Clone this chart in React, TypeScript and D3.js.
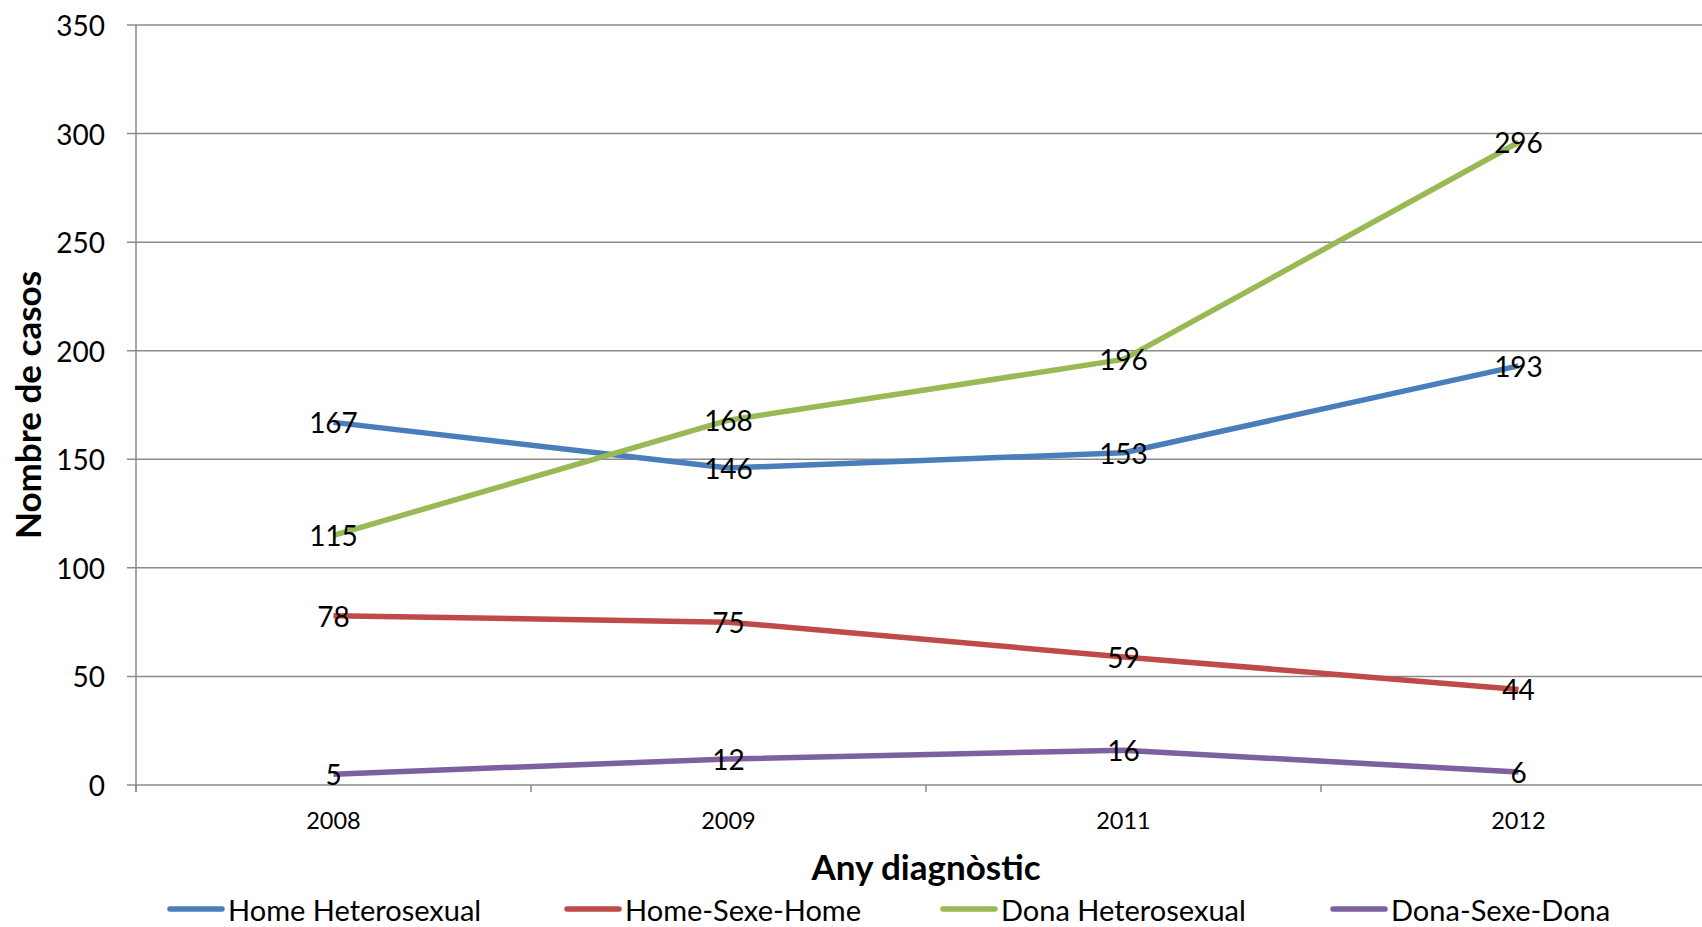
import React from 'react'
import * as d3 from 'd3'

const years = ['2008', '2009', '2011', '2012']
const homeHetero = [167, 146, 153, 193]
const homeSexeHome = [78, 75, 59, 44]
const donaHetero = [115, 168, 196, 296]
const donaSexeDona = [5, 12, 16, 6]
const seriesNames = ['Home Heterosexual', 'Home-Sexe-Home', 'Dona Heterosexual', 'Dona-Sexe-Dona']
const yTicks = [0, 50, 100, 150, 200, 250, 300, 350]

const colors = ['#4A7EBB', '#BE4B48', '#98B954', '#7D60A0']
const legendX = [170, 567, 943, 1333]

const W = 1702
const H = 927
const margin = { top: 25, left: 136, bottom: 785, right: 1716 }
const font = 'Lato, "Noto Sans", sans-serif'

const App = () => {
	const x = d3.scaleBand().domain(years).range([margin.left, margin.right])
	const y = d3.scaleLinear().domain([0, 350]).range([margin.bottom, margin.top])
	const allSeries = [homeHetero, homeSexeHome, donaHetero, donaSexeDona]

	const line = d3
		.line<number>()
		.x((_, i) => x(years[i])! + x.bandwidth() / 2)
		.y((d) => y(d))

	const xBounds = [...years.map((yr) => x(yr)!), margin.right]

	return (
		<svg width={W} height={H} style={{ position: 'absolute', left: 0, top: 0, background: '#fff' }}>
			{/* gridlines */}
			{yTicks.map((t) => (
				<g key={t}>
					<line x1={margin.left - 9} x2={W} y1={y(t)} y2={y(t)} stroke="#8a8a8a" strokeWidth={1.5} />
					<text
						x={105}
						y={y(t)}
						textAnchor="end"
						dominantBaseline="central"
						fontFamily={font}
						fontSize={28}
						fill="#000"
					>
						{t}
					</text>
				</g>
			))}
			{/* y axis line */}
			<line x1={margin.left} x2={margin.left} y1={margin.top} y2={margin.bottom + 7} stroke="#8a8a8a" strokeWidth={1.5} />
			{/* x ticks */}
			{xBounds.map((b, i) => (
				<line key={i} x1={b} x2={b} y1={margin.bottom} y2={margin.bottom + 7} stroke="#8a8a8a" strokeWidth={1.5} />
			))}
			{years.map((yr) => (
				<text
					key={yr}
					x={x(yr)! + x.bandwidth() / 2}
					y={820}
					textAnchor="middle"
					dominantBaseline="central"
					fontFamily={font}
					fontSize={23.5}
				>
					{yr}
				</text>
			))}
			{/* lines */}
			{allSeries.map((s, i) => (
				<path key={i} d={line(s)!} fill="none" stroke={colors[i]} strokeWidth={5.5} strokeLinejoin="round" />
			))}
			{/* data labels */}
			{allSeries.map((s, i) =>
				s.map((v, j) => (
					<text
						key={i + '-' + j}
						x={x(years[j])! + x.bandwidth() / 2}
						y={y(v)}
						textAnchor="middle"
						dominantBaseline="central"
						fontFamily={font}
						fontSize={28}
						fill="#000"
					>
						{v}
					</text>
				))
			)}
			{/* axis titles */}
			<text
				x={(margin.left + margin.right) / 2}
				y={866}
				textAnchor="middle"
				dominantBaseline="central"
				fontFamily={font}
				fontWeight="bold"
				fontSize={35}
			>
				Any diagnòstic
			</text>
			<text
				transform={`translate(27,${(margin.top + margin.bottom) / 2}) rotate(-90)`}
				textAnchor="middle"
				dominantBaseline="central"
				fontFamily={font}
				fontWeight="bold"
				fontSize={35}
			>
				Nombre de casos
			</text>
			{/* legend */}
			{seriesNames.map((n, i) => (
				<g key={n} transform={`translate(${legendX[i]},909)`}>
					<line x1={0} x2={52} y1={0} y2={0} stroke={colors[i]} strokeWidth={5.5} strokeLinecap="round" />
					<text x={58} y={0} dominantBaseline="central" fontFamily={font} fontSize={29}>
						{n}
					</text>
				</g>
			))}
		</svg>
	)
}

export default App
